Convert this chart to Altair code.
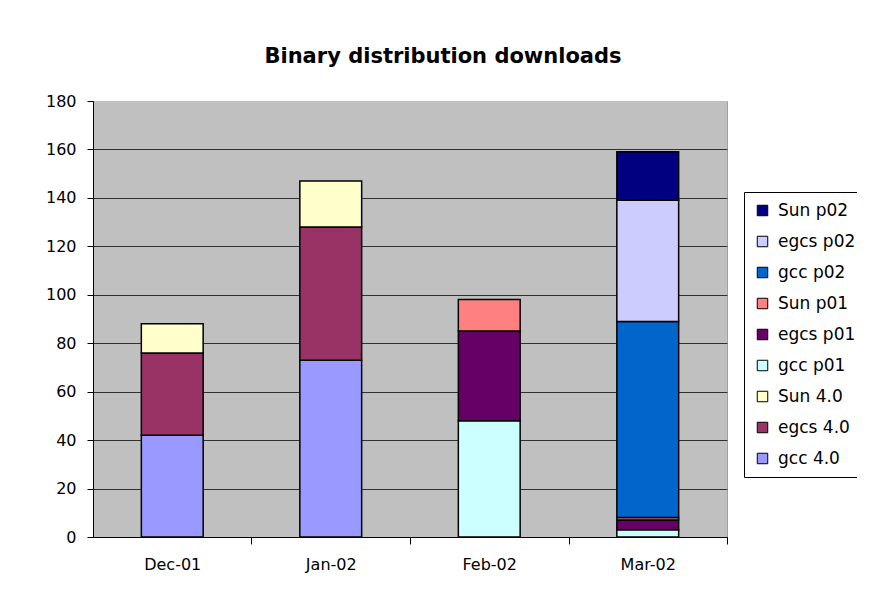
import altair as alt
import pandas as pd

months = ["Dec-01", "Jan-02", "Feb-02", "Mar-02"]
series = ["gcc 4.0", "egcs 4.0", "Sun 4.0", "gcc p01", "egcs p01", "Sun p01",
          "gcc p02", "egcs p02", "Sun p02"]
colors = ["#9999FF", "#993366", "#FFFFCC", "#CCFFFF", "#660066", "#FF8080",
          "#0066CC", "#CCCCFF", "#000080"]

gcc_40 = [42, 73, 0, 0]
egcs_40 = [34, 55, 0, 0]
sun_40 = [12, 19, 0, 0]
gcc_p01 = [0, 0, 48, 3]
egcs_p01 = [0, 0, 37, 4]
sun_p01 = [0, 0, 13, 1]
gcc_p02 = [0, 0, 0, 81]
egcs_p02 = [0, 0, 0, 50]
sun_p02 = [0, 0, 0, 20]

values = [gcc_40, egcs_40, sun_40, gcc_p01, egcs_p01, sun_p01,
          gcc_p02, egcs_p02, sun_p02]

rows = []
for i, (name, vals) in enumerate(zip(series, values)):
    for m, v in zip(months, vals):
        if v > 0:
            rows.append({"Month": m, "Series": name, "Downloads": v, "order": i})
df = pd.DataFrame(rows)

FONT = "DejaVu Sans"
half_step = 634 / 4 / 2

chart = alt.Chart(df).mark_bar(stroke="black", strokeWidth=1.5).encode(
    x=alt.X("Month:N", sort=months,
            scale=alt.Scale(paddingInner=0.61, paddingOuter=0.305),
            axis=alt.Axis(title=None, labelAngle=0, tickOffset=half_step,
                          labelOffset=-half_step, domainColor="black",
                          tickColor="black", tickSize=7, grid=False,
                          labelFont=FONT, labelFontSize=16, labelColor="black",
                          labelPadding=12)),
    y=alt.Y("Downloads:Q", stack="zero",
            scale=alt.Scale(domain=[0, 180], nice=False),
            axis=alt.Axis(title=None, values=list(range(0, 181, 20)),
                          grid=True,
                          gridColor={"condition": {"test": "datum.value >= 180", "value": "#C0C0C0"},
                                     "value": "#303030"},
                          domainColor="black", tickColor="black", tickSize=6,
                          labelPadding=11, labelFont=FONT, labelFontSize=16,
                          labelColor="black")),
    color=alt.Color("Series:N",
                    scale=alt.Scale(domain=series[::-1], range=colors[::-1]),
                    legend=alt.Legend(orient="none", legendX=651, legendY=91,
                                      title=None, strokeColor="black",
                                      fillColor="white", padding=10,
                                      symbolType="square", symbolSize=110,
                                      symbolStrokeColor="black",
                                      symbolStrokeWidth=1,
                                      labelFont=FONT, labelFontSize=17,
                                      labelColor="black",
                                      rowPadding=13, labelOffset=7)),
    order=alt.Order("order:Q", sort="ascending"),
).properties(
    width=634,
    height=436,
    background="white",
    padding={"left": 85, "top": 93, "right": 130, "bottom": 60},
    autosize=alt.AutoSizeParams(type="none"),
    title=alt.TitleParams("Binary distribution downloads", font=FONT,
                          fontSize=21, fontWeight="bold", color="black",
                          anchor="middle", dx=33, offset=26),
).configure_view(
    fill="#C0C0C0", stroke="#A0A0A0"
)

chart.save("out.html", embed_options={"renderer": "svg", "actions": False})
